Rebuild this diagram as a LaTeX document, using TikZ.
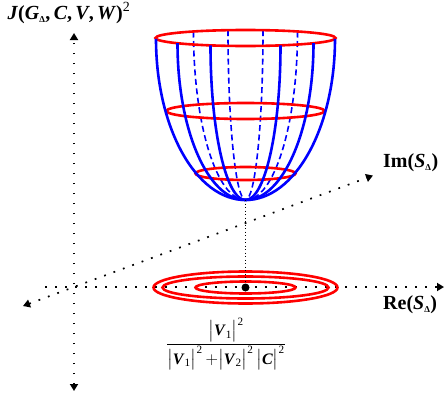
\documentclass[tikz,border=0pt]{standalone}
\usepackage{amsmath}
\usepackage{fontspec}
\setmainfont{Liberation Serif}
\usetikzlibrary{arrows.meta}
\definecolor{rimred}{RGB}{255,0,0}
\definecolor{wireblue}{RGB}{0,0,255}
\newcommand\bi[1]{\textbf{\textit{#1}}}
\newcommand\tinydelta{\textsubscript{\fontsize{9}{9}\selectfont Δ}}
\newcommand\absq[2]{\big|\bi{#1}_{\textrm{#2}}\big|^{\textrm{2}}}
\tikzset{
  >={Triangle[length=7pt,width=8pt]},
  axis/.style={black,line width=1.7pt,dash pattern=on 1.8pt off 8.2pt},
  drop/.style={black,line width=0.7pt,dash pattern=on 1pt off 2.5pt},
  ring/.style={draw=rimred,line width=2.6pt},
  meridian/.style={draw=wireblue,line width=2.6pt},
  hidden meridian/.style={draw=wireblue,line width=1.6pt,dash pattern=on 6pt off 3.5pt},
  lbl/.style={font=\fontsize{20}{24}\selectfont,inner sep=0pt},
}

\begin{document}
\begin{tikzpicture}[x=1pt,y=-1pt]
  \useasboundingbox (0,0) rectangle (445,399);
  % axes
  \coordinate (O) at (74,287);
  \coordinate (J top) at (74,33);
  \coordinate (J bot) at (74,391);
  \coordinate (re start) at (45,287);
  \coordinate (re end) at (444,287);
  \coordinate (im start) at (23,306);
  \coordinate (im end) at (373,175.5);
  \draw[axis,<->] (J bot) -- (J top);
  \draw[axis,->] (re start) -- (re end);
  \draw[axis,<->] (im start) -- (im end);
  \node[lbl,anchor=base west] (jlab) at (7.5,19.5)
    {\bfseries\textit{J}(\textit{G}\tinydelta,\,\textit{C},\,\textit{V},\,\textit{W})\textsuperscript{\mdseries 2}};
  \node[lbl,anchor=base west] (imlab) at (383,167) {\bfseries Im(\textit{S}\tinydelta)};
  \node[lbl,anchor=base west] (relab) at (383,309) {\bfseries Re(\textit{S}\tinydelta)};
  % bowl
  \coordinate (vertex) at (245.5,200);
  \foreach \dx/\yt in {52/31.5,17.5/30.1}{
    \draw[hidden meridian] (245.5-\dx,\yt) arc[start angle=180,end angle=90,x radius=\dx,y radius={200-\yt}];
    \draw[hidden meridian] (245.5+\dx,\yt) arc[start angle=0,end angle=90,x radius=\dx,y radius={200-\yt}];
  }
  \draw[ring] (245.5,38) ellipse [x radius=90,y radius=8];
  \draw[ring] (245.5,111) ellipse [x radius=79,y radius=8];
  \draw[ring] (245.5,173.5) ellipse [x radius=50,y radius=6.5];
  \foreach \dx/\yt in {89.5/38.8,68/43.2,35/45.4}{
    \draw[meridian] (245.5-\dx,\yt) arc[start angle=180,end angle=90,x radius=\dx,y radius={200-\yt}];
    \draw[meridian] (245.5+\dx,\yt) arc[start angle=0,end angle=90,x radius=\dx,y radius={200-\yt}];
  }
  % footprint in the S plane
  \coordinate (foot) at (245.5,287.5);
  \draw[ring] (foot) ellipse [x radius=92,y radius=16];
  \draw[ring] (foot) ellipse [x radius=83,y radius=11];
  \draw[ring] (foot) ellipse [x radius=50,y radius=6];
  \node[circle,fill=black,inner sep=0pt,minimum size=8pt] (peak) at (foot) {};
  \draw[drop] (vertex) -- (peak);
  \node[lbl,font=\fontsize{16}{19}\selectfont] (ratio) at (226,344)
    {$\dfrac{\absq{V}{1}}{\absq{V}{1}\,{+}\absq{V}{2}\,\big|\bi{C}\big|^{\textrm{2}}}$};
\end{tikzpicture}
\end{document}
